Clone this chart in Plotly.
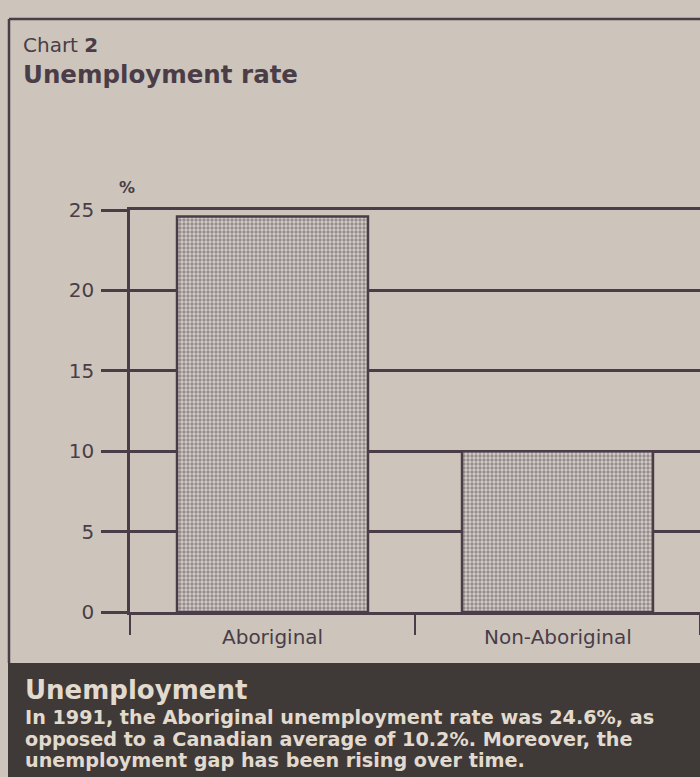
import plotly.graph_objects as go

categories = ["Aboriginal", "Non-Aboriginal"]
rates = [24.6, 10.0]
y_ticks = [0, 5, 10, 15, 20, 25]

W, H = 700, 777
L, R, T, B = 130, 0, 210, 165
PW, PH = W - L - R, H - T - B

def px(x):
    return (x - L) / PW

def py(y):
    return (H - B - y) / PH

bg = "#cdc5bb"
ink = "#4a3d48"
dark_box = "#3f3a38"
light_txt = "#e2dace"
FONT = "DejaVu Sans"

fig = go.Figure()
fig.add_trace(go.Bar(
    x=categories, y=rates, width=0.67,
    marker=dict(
        color="#d3cdc6",
        line=dict(color=ink, width=2.5),
        pattern=dict(shape=".", fgcolor="#574c57", bgcolor="#d3cdc6", size=4, solidity=0.55),
    ),
    hoverinfo="skip",
))

fig.update_layout(
    width=W, height=H,
    margin=dict(l=L, r=R, t=T, b=B, pad=0),
    paper_bgcolor=bg, plot_bgcolor=bg,
    showlegend=False,
    font=dict(family=FONT, color=ink),
    xaxis=dict(
        range=[-0.5, 1.5], showgrid=False, showline=True, mirror=True, linecolor=ink, linewidth=2.5,
        ticks="outside", tickson="boundaries", ticklen=20, tickwidth=2, tickcolor=ink,
        showticklabels=False, zeroline=False, fixedrange=True,
    ),
    yaxis=dict(
        range=[0, 25], tickvals=y_ticks, showgrid=True, gridcolor=ink, gridwidth=2.5,
        showline=True, linecolor=ink, linewidth=2.5, zeroline=False,
        ticks="outside", ticklen=26, tickwidth=2.5, tickcolor=ink, ticklabelstandoff=3,
        tickfont=dict(size=20, color=ink, family=FONT), fixedrange=True,
    ),
)

shapes = [
    # frame
    dict(type="line", xref="paper", yref="paper", x0=px(9), x1=px(700), y0=py(19), y1=py(19),
         line=dict(color=ink, width=2.5)),
    dict(type="line", xref="paper", yref="paper", x0=px(9), x1=px(9), y0=py(19), y1=py(663),
         line=dict(color=ink, width=2.5)),
    # caption box
    dict(type="rect", xref="paper", yref="paper", x0=px(8), x1=px(700), y0=py(663), y1=py(777),
         fillcolor=dark_box, line=dict(width=0), layer="above"),
]
fig.update_layout(shapes=shapes)

ann = []
def text(x, y, s, size, color=ink, bold=False, xanchor="left", yanchor="middle"):
    ann.append(dict(xref="paper", yref="paper", x=px(x), y=py(y), text=(f"<b>{s}</b>" if bold else s),
                    showarrow=False, xanchor=xanchor, yanchor=yanchor,
                    font=dict(size=size, color=color, family=FONT)))

text(21, 45, "Chart <b>2</b>", 20)
text(21, 74, "Unemployment rate", 24.5, bold=True)
text(127, 187, "%", 16, bold=True, xanchor="center")
for c in categories:
    ann.append(dict(xref="x", yref="paper", x=c, y=py(637), text=c, showarrow=False,
                    xanchor="center", yanchor="middle", font=dict(size=20, color=ink, family=FONT)))
text(23, 690, "Unemployment", 26, color=light_txt, bold=True)
text(23, 717, "In 1991, the Aboriginal unemployment rate was 24.6%, as", 19.2, color=light_txt, bold=True)
text(23, 739, "opposed to a Canadian average of 10.2%. Moreover, the", 19.2, color=light_txt, bold=True)
text(23, 760, "unemployment gap has been rising over time.", 19.2, color=light_txt, bold=True)
fig.update_layout(annotations=ann)

fig.write_html("out.html", config={"displayModeBar": False},
               post_script="document.body.style.margin='0';document.body.style.overflow='hidden';")
